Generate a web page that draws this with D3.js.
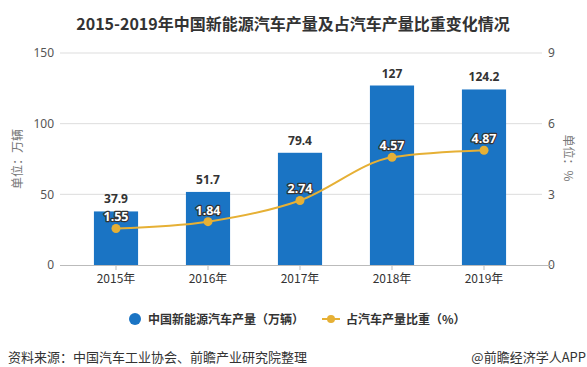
<!DOCTYPE html>
<html>
<head>
<meta charset="utf-8">
<script src="https://cdn.jsdelivr.net/npm/d3@7"></script>
<style>
  body { margin: 0; background: #fff; }
  text { font-family: "Noto Sans CJK SC", "Noto Sans", sans-serif; }
</style>
</head>
<body>
<svg id="chart" width="587" height="367"></svg>
<script>
// data
var years = ["2015年", "2016年", "2017年", "2018年", "2019年"]
var output = [37.9, 51.7, 79.4, 127, 124.2]      // 万辆
var share = [1.55, 1.84, 2.74, 4.57, 4.87]       // %
var leftTicks = [0, 50, 100, 150]
var rightTicks = [0, 3, 6, 9]

var svg = d3.select("#chart")
var blue = "#1a74c4", gold = "#e6b035"

var xScale = d3.scaleBand().domain(years).range([70, 530]).paddingInner(0.52).paddingOuter(0.26)
var yLeft = d3.scaleLinear().domain([0, 150]).range([265, 53])
var yRight = d3.scaleLinear().domain([0, 9]).range([265, 53])
var cx = d => xScale(d) + xScale.bandwidth() / 2

// title
svg.append("text")
    .attr("x", 293).attr("y", 30)
    .attr("text-anchor", "middle")
    .attr("font-size", 16).attr("font-weight", "bold").attr("fill", "#333")
    .text("2015-2019年中国新能源汽车产量及占汽车产量比重变化情况")

// grid lines
svg.append("g").selectAll("line")
    .data(leftTicks.slice(1))
    .enter().append("line")
    .attr("x1", 60).attr("x2", 542)
    .attr("y1", d => yLeft(d)).attr("y2", d => yLeft(d))
    .attr("stroke", "#ddd")

// left axis labels
var leftAxis = d3.axisLeft(yLeft).tickValues(leftTicks).tickSize(0).tickPadding(6)
var gl = svg.append("g").attr("transform", "translate(60,0)").call(leftAxis)
gl.select(".domain").remove()
gl.selectAll("text").attr("font-size", 12).attr("fill", "#555").style("font-family", "'Noto Sans', sans-serif")

var rightAxis = d3.axisRight(yRight).tickValues(rightTicks).tickSize(0).tickPadding(6)
var gr = svg.append("g").attr("transform", "translate(542,0)").call(rightAxis)
gr.select(".domain").remove()
gr.selectAll("text").attr("font-size", 12).attr("fill", "#555").style("font-family", "'Noto Sans', sans-serif")

// axis titles
svg.append("text")
    .attr("transform", "translate(22,159) rotate(-90)")
    .attr("text-anchor", "middle").attr("font-size", 12).attr("fill", "#777")
    .text("单位：万辆")
svg.append("text")
    .attr("transform", "translate(564,158) rotate(90)")
    .attr("text-anchor", "middle").attr("font-size", 12).attr("fill", "#777")
    .text("单位：%")

// bars
svg.append("g").selectAll("rect")
    .data(output)
    .enter().append("rect")
    .attr("x", (d, i) => xScale(years[i]))
    .attr("y", d => yLeft(d))
    .attr("width", xScale.bandwidth())
    .attr("height", d => yLeft(0) - yLeft(d))
    .attr("fill", blue)

// x axis
var xAxis = d3.axisBottom(xScale).tickSize(5).tickPadding(4)
var gx = svg.append("g").attr("transform", "translate(0,265)").call(xAxis)
gx.select(".domain").attr("d", "M-10,0.5H482").attr("transform", "translate(70,0)").attr("stroke", "#bbb")
gx.selectAll(".tick line").attr("stroke", "#bbb")
gx.selectAll("text").attr("font-size", 12).attr("fill", "#333")

// bar value labels
svg.append("g").selectAll("text")
    .data(output)
    .enter().append("text")
    .attr("x", (d, i) => cx(years[i]))
    .attr("y", d => yLeft(d) - 8)
    .attr("text-anchor", "middle")
    .attr("font-size", 12).attr("font-weight", "bold").attr("fill", "#333")
    .style("font-family", "'Noto Sans', sans-serif")
    .text(d => d)

// share line
var line = d3.line()
    .x((d, i) => cx(years[i]))
    .y(d => yRight(d))
    .curve(d3.curveMonotoneX)
svg.append("path")
    .datum(share)
    .attr("fill", "none").attr("stroke", gold).attr("stroke-width", 2)
    .attr("d", line)
svg.append("g").selectAll("circle")
    .data(share)
    .enter().append("circle")
    .attr("cx", (d, i) => cx(years[i]))
    .attr("cy", d => yRight(d))
    .attr("r", 4.5).attr("fill", gold)

// share labels: white text with dark outline
svg.append("g").selectAll("text")
    .data(share)
    .enter().append("text")
    .attr("x", (d, i) => cx(years[i]))
    .attr("y", d => yRight(d) - 7)
    .attr("text-anchor", "middle")
    .attr("font-size", 12.5).attr("font-weight", "bold")
    .attr("fill", "#fff").attr("stroke", "#333").attr("stroke-width", 2.5)
    .attr("paint-order", "stroke").attr("stroke-linejoin", "round")
    .style("font-family", "'Noto Sans', sans-serif")
    .text(d => d)

// legend
var lg = svg.append("g").attr("transform", "translate(0,319)")
lg.append("circle").attr("cx", 135).attr("cy", 0).attr("r", 6).attr("fill", blue)
lg.append("text").attr("x", 148).attr("y", 4.5)
    .attr("font-size", 12).attr("font-weight", "bold").attr("fill", "#333")
    .text("中国新能源汽车产量（万辆）")
lg.append("line").attr("x1", 322).attr("x2", 340).attr("y1", 0).attr("y2", 0)
    .attr("stroke", gold).attr("stroke-width", 2)
lg.append("circle").attr("cx", 331).attr("cy", 0).attr("r", 4).attr("fill", gold)
lg.append("text").attr("x", 346).attr("y", 4.5)
    .attr("font-size", 12).attr("font-weight", "bold").attr("fill", "#333")
    .text("占汽车产量比重（%）")

// source
svg.append("text").attr("x", 8).attr("y", 362)
    .attr("font-size", 13).attr("fill", "#333")
    .text("资料来源：中国汽车工业协会、前瞻产业研究院整理")
svg.append("text").attr("x", 586).attr("y", 362)
    .attr("text-anchor", "end")
    .attr("font-size", 13).attr("fill", "#333")
    .text("@前瞻经济学人APP")
</script>
</body>
</html>
